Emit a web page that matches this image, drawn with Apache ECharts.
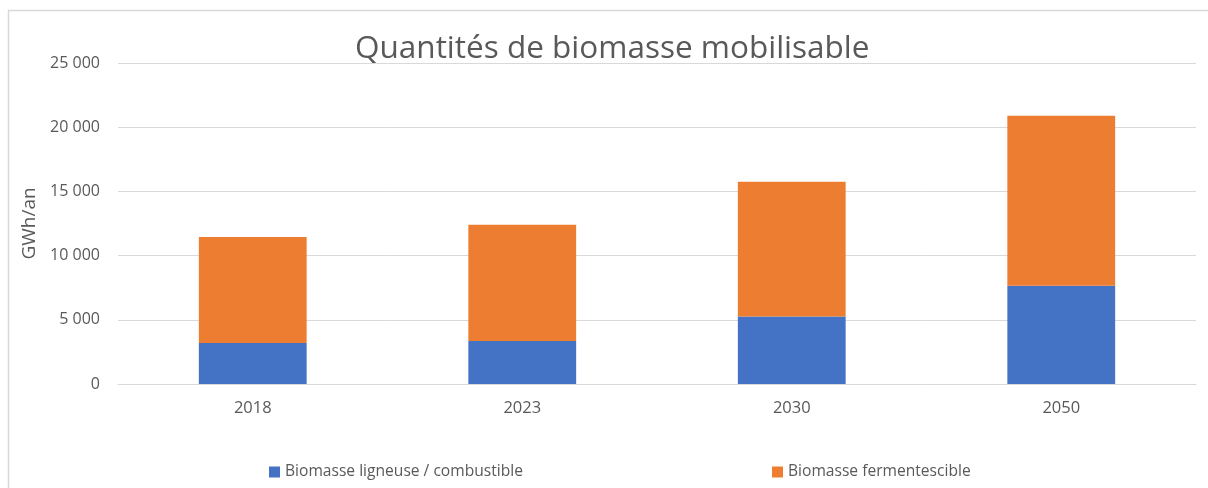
<!DOCTYPE html>
<html>
<head>
<meta charset="utf-8">
<script src="https://cdn.jsdelivr.net/npm/echarts@6/dist/echarts.min.js"></script>
<style>
  html, body { margin: 0; padding: 0; background: #ffffff; }
  #chart { width: 1208px; height: 488px; }
</style>
</head>
<body>
<div id="chart"></div>
<script>
// Mobilisable biomass by horizon year (GWh/an), stacked by biomass type
const years = ['2018', '2023', '2030', '2050'];
const ligneuse = [3200, 3350, 5250, 7650];
const fermentescible = [8250, 9050, 10500, 13250];
const seriesNames = ['Biomasse ligneuse / combustible', 'Biomasse fermentescible'];
const yTicks = { min: 0, max: 25000, step: 5000 };

const FONT = '"Open Sans", "Noto Sans", sans-serif';
const TEXT = '#595959';
const GRID = '#D9D9D9';

function frNumber(v) {
  return String(v).replace(/\B(?=(\d{3})+(?!\d))/g, ' ');
}

const chart = echarts.init(document.getElementById('chart'), null, { renderer: 'canvas' });

chart.setOption({
  backgroundColor: '#ffffff',
  animation: false,
  textStyle: { fontFamily: FONT, color: TEXT },
  title: {
    text: 'Quantités de biomasse mobilisable',
    left: 350,
    top: 28,
    textStyle: { fontFamily: FONT, fontSize: 31.5, fontWeight: 'normal', color: TEXT }
  },
  graphic: [{
    type: 'rect',
    silent: true,
    z: -1,
    shape: { x: 8.5, y: 10.5, width: 1220, height: 520 },
    style: { fill: 'none', stroke: GRID, lineWidth: 1.5 }
  }],
  legend: [{
    data: [seriesNames[0]],
    left: 264,
    top: 459,
    itemWidth: 11,
    itemHeight: 11,
    itemGap: 0,
    icon: 'rect',
    textStyle: { fontFamily: FONT, fontSize: 15.6, color: TEXT }
  }, {
    data: [seriesNames[1]],
    left: 767,
    top: 459,
    itemWidth: 11,
    itemHeight: 11,
    itemGap: 0,
    icon: 'rect',
    textStyle: { fontFamily: FONT, fontSize: 15.6, color: TEXT }
  }],
  grid: { left: 118, right: 12, top: 63, height: 321, containLabel: false },
  xAxis: {
    type: 'category',
    data: years,
    axisLine: { show: true, lineStyle: { color: GRID, width: 1 } },
    axisTick: { show: false },
    axisLabel: { margin: 16, fontSize: 16.5, color: TEXT, fontFamily: FONT }
  },
  yAxis: {
    type: 'value',
    min: yTicks.min,
    max: yTicks.max,
    interval: yTicks.step,
    name: 'GWh/an',
    nameLocation: 'middle',
    nameGap: 76,
    nameRotate: 90,
    nameTextStyle: { fontSize: 19, color: TEXT, fontFamily: FONT },
    axisLine: { show: false },
    axisTick: { show: false },
    splitLine: { lineStyle: { color: GRID, width: 1 } },
    axisLabel: {
      margin: 18,
      fontSize: 16,
      color: TEXT,
      fontFamily: FONT,
      formatter: frNumber
    }
  },
  series: [{
    name: seriesNames[0],
    type: 'bar',
    stack: 'total',
    data: ligneuse,
    barWidth: '40%',
    itemStyle: { color: '#4472C4' }
  }, {
    name: seriesNames[1],
    type: 'bar',
    stack: 'total',
    data: fermentescible,
    barWidth: '40%',
    itemStyle: { color: '#ED7D31' }
  }]
});
</script>
</body>
</html>
